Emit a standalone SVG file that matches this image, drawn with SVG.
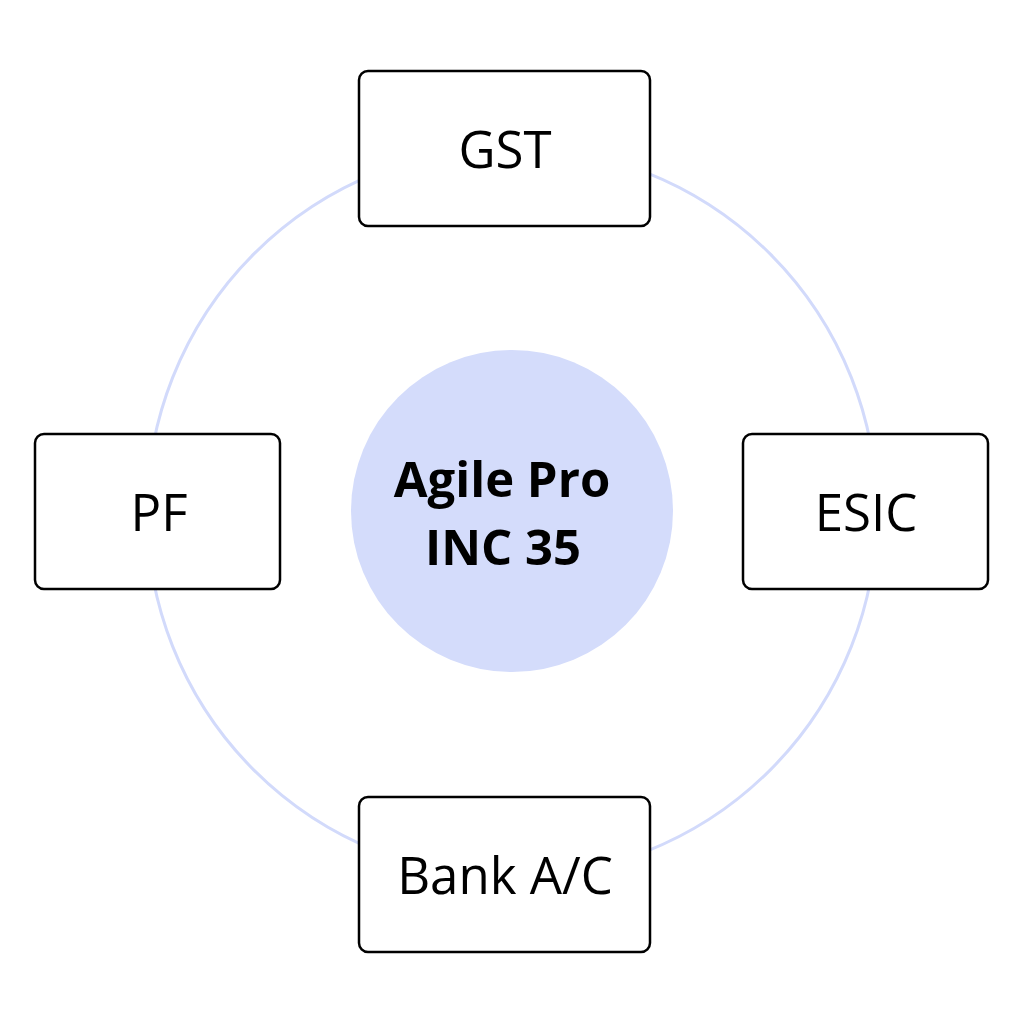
<svg xmlns="http://www.w3.org/2000/svg" width="1024" height="1024" viewBox="0 0 1024 1024">
<style>
.box{fill:#ffffff;stroke:#000000;stroke-width:2.5}
.lbl{font-family:"Open Sans","Liberation Sans",sans-serif;font-size:51px;font-weight:500;fill:#000000;text-anchor:middle}
.ctr{font-family:"Open Sans","Liberation Sans",sans-serif;font-size:49px;font-weight:bold;fill:#000000;text-anchor:middle}
</style>
<rect width="1024" height="1024" fill="#ffffff"/>
<g id="connectors">
<circle cx="512" cy="512" r="365" fill="none" stroke="#d2dafb" stroke-width="3"/>
</g>
<g id="center">
<circle cx="512" cy="511" r="161" fill="#d4dcfb"/>
<text class="ctr" x="502" y="497">Agile Pro</text>
<text class="ctr" x="503" y="565">INC 35</text>
</g>
<g id="gst">
<rect class="box" x="359" y="71" width="291" height="155" rx="9"/>
<text class="lbl" x="505" y="168">GST</text>
</g>
<g id="pf">
<rect class="box" x="35" y="434" width="245" height="155" rx="9"/>
<text class="lbl" x="159" y="531">PF</text>
</g>
<g id="esic">
<rect class="box" x="743" y="434" width="245" height="155" rx="9"/>
<text class="lbl" x="866" y="531">ESIC</text>
</g>
<g id="bank">
<rect class="box" x="359" y="797" width="291" height="155" rx="9"/>
<text class="lbl" x="505" y="894">Bank A/C</text>
</g>
</svg>
